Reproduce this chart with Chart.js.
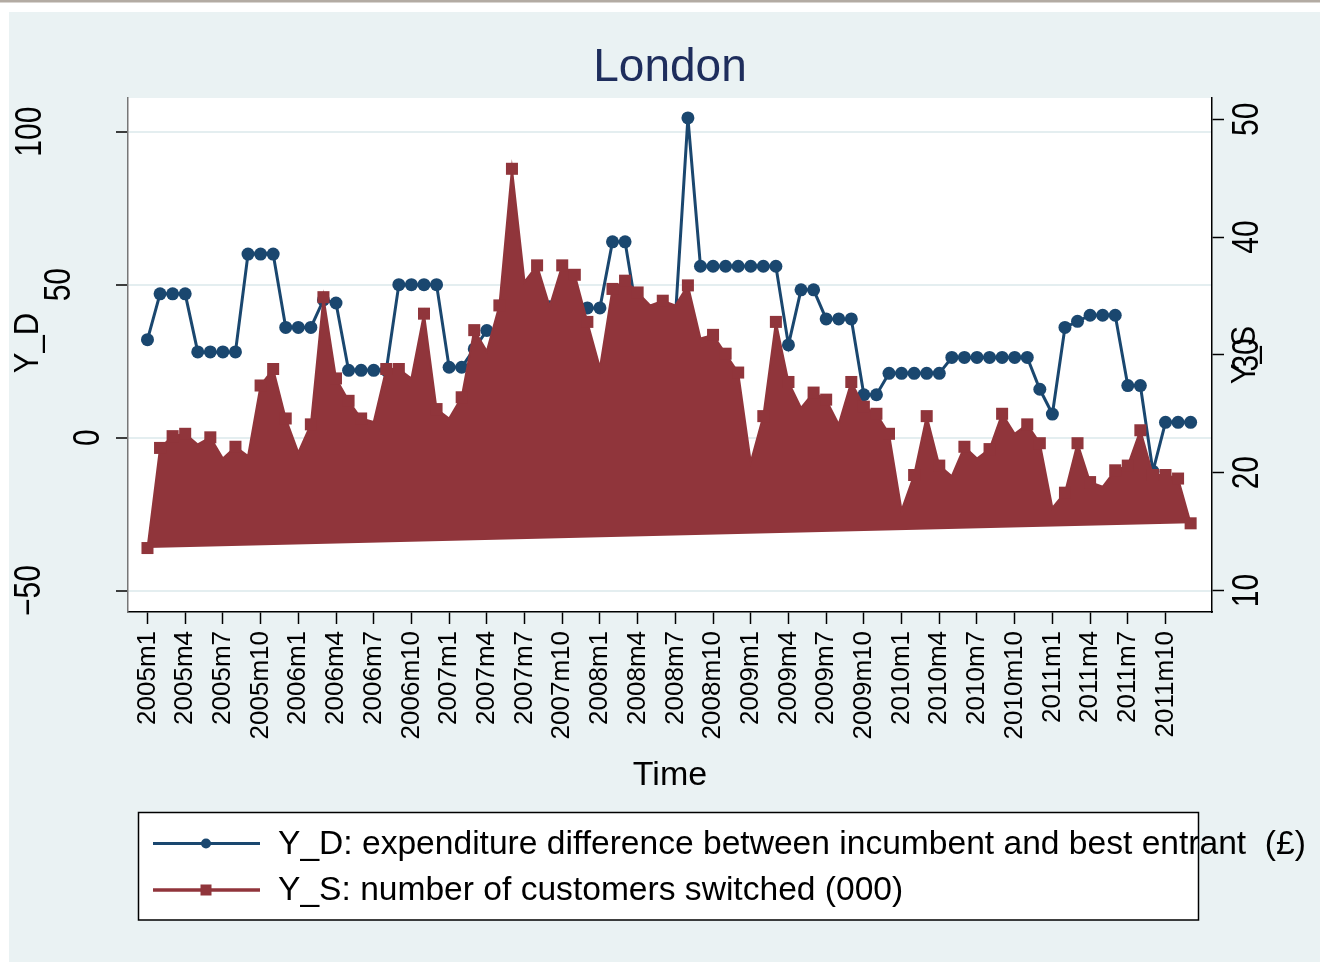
<!DOCTYPE html>
<html>
<head>
<meta charset="utf-8">
<script src="https://cdn.jsdelivr.net/npm/chart.js@4.4.1/dist/chart.umd.min.js"></script>
<style>
html,body{margin:0;padding:0;background:#fff;}
#wrap{width:1320px;height:962px;position:relative;}
canvas{display:block;}
</style>
</head>
<body>
<div id="wrap"><canvas id="c" width="1320" height="962"></canvas></div>
<script>
// ---------- data ----------
const categories = [
 '2005m1','2005m2','2005m3','2005m4','2005m5','2005m6','2005m7','2005m8','2005m9','2005m10','2005m11','2005m12',
 '2006m1','2006m2','2006m3','2006m4','2006m5','2006m6','2006m7','2006m8','2006m9','2006m10','2006m11','2006m12',
 '2007m1','2007m2','2007m3','2007m4','2007m5','2007m6','2007m7','2007m8','2007m9','2007m10','2007m11','2007m12',
 '2008m1','2008m2','2008m3','2008m4','2008m5','2008m6','2008m7','2008m8','2008m9','2008m10','2008m11','2008m12',
 '2009m1','2009m2','2009m3','2009m4','2009m5','2009m6','2009m7','2009m8','2009m9','2009m10','2009m11','2009m12',
 '2010m1','2010m2','2010m3','2010m4','2010m5','2010m6','2010m7','2010m8','2010m9','2010m10','2010m11','2010m12',
 '2011m1','2011m2','2011m3','2011m4','2011m5','2011m6','2011m7','2011m8','2011m9','2011m10','2011m11','2011m12'
];
const xTickLabels = [
 '2005m1','2005m4','2005m7','2005m10','2006m1','2006m4','2006m7','2006m10',
 '2007m1','2007m4','2007m7','2007m10','2008m1','2008m4','2008m7','2008m10',
 '2009m1','2009m4','2009m7','2009m10','2010m1','2010m4','2010m7','2010m10',
 '2011m1','2011m4','2011m7','2011m10'
];
// Y_D: expenditure difference (left axis)
const yD = [
 32, 47, 47, 47, 28, 28, 28, 28, 60, 60, 60, 36,
 36, 36, 45, 44, 22, 22, 22, 22, 50, 50, 50, 50,
 23, 23, 29, 35, 35, 42.5, 42.5, 42.5, 42.8, 42.5, 42.5, 42.4,
 42.4, 64, 64, 39, 39, 39, 39, 104.5, 56, 56, 56, 56,
 56, 56, 56, 30.3, 48.3, 48.3, 38.8, 38.8, 38.8, 14, 14, 21,
 21, 21, 21, 21, 26.2, 26.2, 26.2, 26.2, 26.2, 26.2, 26.2, 15.8,
 7.7, 36, 38, 40, 40, 40, 17, 17, -11, 5, 5, 5
];
// Y_S: customers switched, thousands (right axis)
const yS = [
 13.6, 22.1, 23.1, 23.3, 22.4, 23.0, 21.2, 22.2, 21.4, 27.4, 28.8, 24.6,
 21.7, 24.1, 34.9, 28.0, 26.1, 24.6, 24.3, 28.8, 28.8, 28.0, 33.5, 25.4,
 24.6, 26.4, 32.1, 30.3, 34.2, 45.8, 36.2, 37.6, 34.1, 37.6, 36.8, 32.8,
 28.9, 35.6, 36.3, 35.3, 34.2, 34.6, 34.2, 35.9, 31.4, 31.7, 30.1, 28.5,
 20.9, 24.8, 32.8, 27.7, 25.5, 26.8, 26.2, 24.1, 27.7, 25.6, 25.0, 23.3,
 16.8, 19.8, 24.8, 20.6, 19.7, 22.2, 21.2, 22.0, 25.0, 23.3, 24.1, 22.5,
 17.0, 18.3, 22.5, 19.2, 18.8, 20.2, 20.6, 23.6, 19.8, 19.8, 19.5, 15.7
];
const yDTicks = [-50, 0, 50, 100];
const ySTicks = [10, 20, 30, 40, 50];
const titleText = 'London';
const xTitle = 'Time';
const yDTitle = 'Y_D';
const ySTitle = 'Y_S';
const legendLabels = [
 'Y_D: expenditure difference between incumbent and best entrant  (\u00A3)',
 'Y_S: number of customers switched (000)'
];

// ---------- style ----------
const NAVY = '#1a476f';
const MAROON = '#90353b';
const BG = '#eaf2f3';
const GRID = '#e4eef0';
const FONT = '"Liberation Sans", Arial, sans-serif';

const xTickIdx = xTickLabels.map(l => categories.indexOf(l));

function rotText(ctx, txt, x, y, font, stretch) {
  ctx.save();
  ctx.font = font;
  ctx.translate(x, y);
  ctx.rotate(-Math.PI / 2);
  ctx.scale(1, stretch || 1);
  ctx.textAlign = 'center';
  ctx.textBaseline = 'middle';
  ctx.fillText(txt, 0, 0);
  ctx.restore();
}

const deco = {
  id: 'deco',
  beforeDraw(chart) {
    const ctx = chart.ctx, W = chart.width, H = chart.height, a = chart.chartArea;
    ctx.save();
    ctx.fillStyle = '#ffffff';
    ctx.fillRect(0, 0, W, H);
    ctx.fillStyle = '#b3aba3';
    ctx.fillRect(0, 0, W, 2.5);
    ctx.fillStyle = BG;
    ctx.fillRect(9, 12, W - 9, H - 12);
    ctx.fillStyle = '#ffffff';
    ctx.fillRect(a.left, a.top, a.right - a.left, a.bottom - a.top);
    ctx.restore();
  },
  afterDraw(chart) {
    const ctx = chart.ctx, a = chart.chartArea;
    const sy = chart.scales.y, sy2 = chart.scales.y2;
    ctx.save();
    ctx.fillStyle = '#000';
    // left tick labels
    const tf = '30px ' + FONT;
    ctx.font = tf;
    yDTicks.forEach(v => {
      const lab = v < 0 ? '\u2212' + Math.abs(v) : String(v);
      const w = ctx.measureText(lab).width;
      rotText(ctx, lab, a.left - 10 - 1.73 * w, sy.getPixelForValue(v), tf, 1.22);
    });
    // right tick labels
    ySTicks.forEach(v => {
      rotText(ctx, String(v), a.right + 36, sy2.getPixelForValue(v), tf, 1.22);
    });
    // axis titles
    rotText(ctx, yDTitle, 28, 343, '31px ' + FONT, 1.15);
    rotText(ctx, ySTitle, 1245, 355, '31px ' + FONT, 1.15);
    ctx.font = '34px ' + FONT;
    ctx.textAlign = 'center';
    ctx.textBaseline = 'middle';
    ctx.fillText(xTitle, (a.left + a.right) / 2, 776);
    // main title
    ctx.fillStyle = '#1e2d5c';
    ctx.font = '46px ' + FONT;
    ctx.fillText(titleText, (a.left + a.right) / 2, 68);
    // legend
    ctx.fillStyle = '#ffffff';
    ctx.fillRect(138.5, 812.5, 1060, 107.5);
    ctx.strokeStyle = '#000';
    ctx.lineWidth = 1.5;
    ctx.strokeRect(138.5, 812.5, 1060, 107.5);
    // legend sample 1
    ctx.strokeStyle = NAVY; ctx.lineWidth = 3;
    ctx.beginPath(); ctx.moveTo(153, 843.5); ctx.lineTo(260, 843.5); ctx.stroke();
    ctx.fillStyle = NAVY;
    ctx.beginPath(); ctx.arc(206, 843.5, 5, 0, Math.PI * 2); ctx.fill();
    // legend sample 2
    ctx.strokeStyle = MAROON; ctx.lineWidth = 3.5;
    ctx.beginPath(); ctx.moveTo(153, 890); ctx.lineTo(260, 890); ctx.stroke();
    ctx.fillStyle = MAROON;
    ctx.fillRect(200.5, 884.5, 11, 11);
    ctx.fillStyle = '#000';
    ctx.font = '33.6px ' + FONT;
    ctx.textAlign = 'left';
    ctx.fillText(legendLabels[0], 278, 845);
    ctx.fillText(legendLabels[1], 278, 891);
    ctx.restore();
  }
};

const ptsD = yD.map((v, i) => ({x: i, y: v}));
const ptsS = yS.map((v, i) => ({x: i, y: v}));

new Chart(document.getElementById('c'), {
  type: 'line',
  data: {
    datasets: [
      {
        label: legendLabels[1],
        data: ptsS,
        yAxisID: 'y2',
        order: 0,
        borderColor: MAROON,
        backgroundColor: MAROON,
        borderWidth: 2,
        fill: 'shape',
        tension: 0,
        pointStyle: 'rect',
        pointBackgroundColor: MAROON,
        pointBorderWidth: 0,
        pointRadius: (c) => {
          const i = c.dataIndex, d = yS;
          if (i > 0 && i < d.length - 1 && d[i] < d[i - 1] && d[i] < d[i + 1]) return 0;
          return 8.5;
        }
      },
      {
        label: legendLabels[0],
        data: ptsD,
        yAxisID: 'y',
        order: 1,
        borderColor: NAVY,
        backgroundColor: NAVY,
        borderWidth: 3,
        fill: false,
        tension: 0,
        pointStyle: 'circle',
        pointRadius: 6.5,
        pointBackgroundColor: NAVY,
        pointBorderWidth: 0
      }
    ]
  },
  options: {
    responsive: false,
    animation: false,
    devicePixelRatio: 1,
    layout: {padding: {top: 98, left: 0, right: 0, bottom: 0}},
    plugins: {legend: {display: false}, title: {display: false}, tooltip: {enabled: false}},
    scales: {
      x: {
        type: 'linear',
        position: 'bottom',
        min: -1.55,
        max: 84.7,
        afterBuildTicks: (s) => { s.ticks = xTickIdx.map(v => ({value: v})); },
        afterFit: (s) => { s.height = 350; },
        ticks: {
          callback: (v) => categories[v],
          font: {family: FONT, size: 26},
          color: '#000',
          minRotation: 90,
          maxRotation: 90,
          autoSkip: false,
          padding: 7
        },
        grid: {drawOnChartArea: false, drawTicks: true, tickLength: 12, tickColor: '#000', tickWidth: 1.5},
        border: {display: true, color: '#000', width: 1.5}
      },
      y: {
        type: 'linear',
        position: 'left',
        min: -57,
        max: 111,
        afterBuildTicks: (s) => { s.ticks = yDTicks.map(v => ({value: v})); },
        afterFit: (s) => { s.width = 128; },
        ticks: {display: false},
        grid: {color: GRID, lineWidth: 2, drawTicks: true, tickLength: 12, tickColor: '#000', tickWidth: 1.5},
        border: {display: true, color: '#777', width: 1.5}
      },
      y2: {
        type: 'linear',
        position: 'right',
        min: 8.17,
        max: 51.81,
        afterBuildTicks: (s) => { s.ticks = ySTicks.map(v => ({value: v})); },
        afterFit: (s) => { s.width = 108; },
        ticks: {display: false},
        grid: {drawOnChartArea: false, drawTicks: true, tickLength: 12, tickColor: '#000', tickWidth: 1.5},
        border: {display: true, color: '#000', width: 1.5}
      }
    }
  },
  plugins: [deco]
});
</script>
</body>
</html>
